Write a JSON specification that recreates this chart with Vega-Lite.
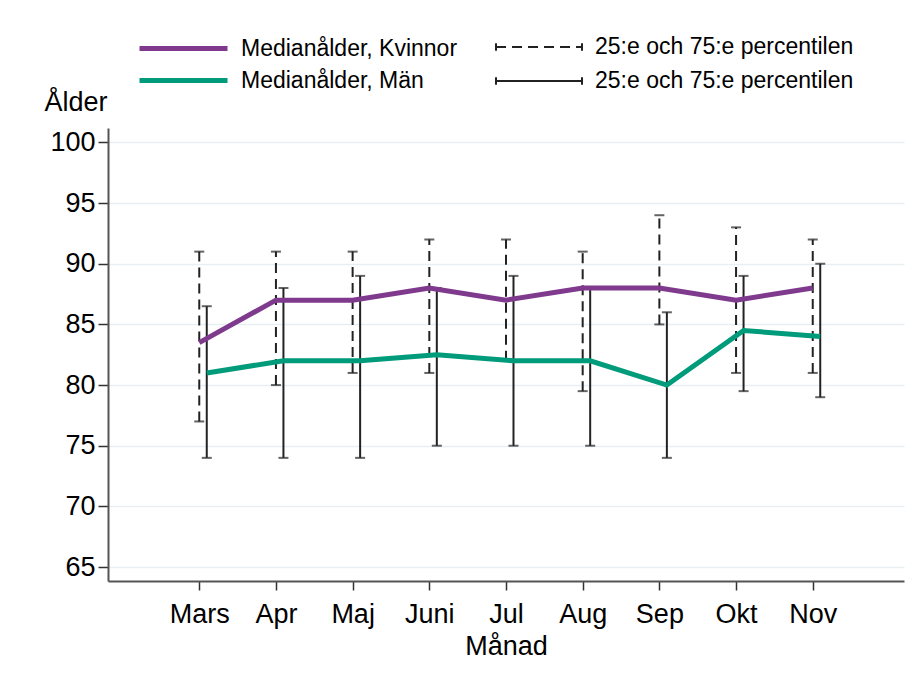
{
  "$schema": "https://vega.github.io/schema/vega-lite/v6.json",
  "width": 796,
  "height": 453,
  "autosize": "none",
  "padding": {"left": 108, "top": 128, "right": 10, "bottom": 94},
  "background": "white",
  "config": {
    "view": {"stroke": null},
    "font": "Liberation Sans",
    "legend": {"labelFont": "Liberation Sans", "labelColor": "#000", "labelLimit": 400}
  },
  "data": {
    "values": [
      {"month": "Mars", "m": 3, "sex": "Kvinnor", "med": 83.5, "p25": 77, "p75": 91},
      {"month": "Apr", "m": 4, "sex": "Kvinnor", "med": 87, "p25": 80, "p75": 91},
      {"month": "Maj", "m": 5, "sex": "Kvinnor", "med": 87, "p25": 81, "p75": 91},
      {"month": "Juni", "m": 6, "sex": "Kvinnor", "med": 88, "p25": 81, "p75": 92},
      {"month": "Jul", "m": 7, "sex": "Kvinnor", "med": 87, "p25": 82, "p75": 92},
      {"month": "Aug", "m": 8, "sex": "Kvinnor", "med": 88, "p25": 79.5, "p75": 91},
      {"month": "Sep", "m": 9, "sex": "Kvinnor", "med": 88, "p25": 85, "p75": 94},
      {"month": "Okt", "m": 10, "sex": "Kvinnor", "med": 87, "p25": 81, "p75": 93},
      {"month": "Nov", "m": 11, "sex": "Kvinnor", "med": 88, "p25": 81, "p75": 92},
      {"month": "Mars", "m": 3, "sex": "Män", "med": 81, "p25": 74, "p75": 86.5},
      {"month": "Apr", "m": 4, "sex": "Män", "med": 82, "p25": 74, "p75": 88},
      {"month": "Maj", "m": 5, "sex": "Män", "med": 82, "p25": 74, "p75": 89},
      {"month": "Juni", "m": 6, "sex": "Män", "med": 82.5, "p25": 75, "p75": 88},
      {"month": "Jul", "m": 7, "sex": "Män", "med": 82, "p25": 75, "p75": 89},
      {"month": "Aug", "m": 8, "sex": "Män", "med": 82, "p25": 75, "p75": 88},
      {"month": "Sep", "m": 9, "sex": "Män", "med": 80, "p25": 74, "p75": 86},
      {"month": "Okt", "m": 10, "sex": "Män", "med": 84.5, "p25": 79.5, "p75": 89},
      {"month": "Nov", "m": 11, "sex": "Män", "med": 84, "p25": 79, "p75": 90}
    ]
  },
  "resolve": {"scale": {"x": "independent"}, "axis": {"x": "independent"}},
  "layer": [
    {
      "transform": [{"filter": "datum.sex === 'Kvinnor'"}],
      "encoding": {
        "x": {
          "field": "m",
          "type": "quantitative",
          "scale": {"domain": [1.81, 12.19], "nice": false, "zero": false},
          "axis": {
            "values": [3, 4, 5, 6, 7, 8, 9, 10, 11],
            "labelExpr": "['','','','Mars','Apr','Maj','Juni','Jul','Aug','Sep','Okt','Nov'][datum.value]",
            "title": "Månad",
            "labelAngle": 0,
            "grid": false,
            "domainColor": "#555",
            "domainWidth": 2,
            "tickColor": "#333",
            "tickWidth": 1.5,
            "tickSize": 9,
            "labelFontSize": 27,
            "labelColor": "#000",
            "labelBaseline": "alphabetic",
            "labelPadding": 32,
            "labelFlush": false,
            "labelOverlap": false,
            "titleFontSize": 27,
            "titleFontWeight": "normal",
            "titleColor": "#000",
            "titleBaseline": "alphabetic",
            "titleY": 73
          }
        }
      },
      "layer": [
        {
          "mark": {"type": "rule", "color": "#222", "strokeWidth": 2},
          "encoding": {
            "y": {
              "field": "p25",
              "type": "quantitative",
              "scale": {"domain": [63.85, 101.19], "nice": false, "zero": false},
              "axis": {
                "values": [65, 70, 75, 80, 85, 90, 95, 100],
                "grid": true,
                "gridColor": "#e8eff2",
                "gridWidth": 1.5,
                "domainColor": "#555",
                "domainWidth": 2,
                "tickColor": "#333",
                "tickWidth": 1.5,
                "tickSize": 10,
                "labelFontSize": 27,
                "labelColor": "#000",
                "labelPadding": 3,
                "title": "Ålder",
                "titleAngle": 0,
                "titleAlign": "left",
                "titleBaseline": "alphabetic",
                "titleX": -64,
                "titleY": -18,
                "titleFontSize": 27,
                "titleFontWeight": "normal",
                "titleColor": "#000"
              }
            },
            "y2": {"field": "p75"},
            "strokeDash": {
              "field": "sex",
              "type": "nominal",
              "scale": {"range": [[10, 6], [1, 0]]},
              "legend": {
                "orient": "none",
                "legendX": 419,
                "legendY": -93,
                "direction": "vertical",
                "title": null,
                "labelExpr": "'25:e och 75:e percentilen'",
                "labelFontSize": 23,
                "labelOffset": 44,
                "rowPadding": 10,
                "symbolType": "M-4,-0.36L-4,0.36M-4,0L4,0M4,-0.36L4,0.36",
                "symbolSize": 462,
                "symbolStrokeColor": "#222",
                "symbolStrokeWidth": 2,
                "symbolFillColor": "transparent"
              }
            }
          }
        },
        {
          "mark": {"type": "tick", "orient": "horizontal", "color": "#222", "size": 10, "thickness": 2},
          "encoding": {"y": {"field": "p25", "type": "quantitative"}}
        },
        {
          "mark": {"type": "tick", "orient": "horizontal", "color": "#222", "size": 10, "thickness": 2},
          "encoding": {"y": {"field": "p75", "type": "quantitative"}}
        }
      ]
    },
    {
      "transform": [{"filter": "datum.sex === 'Män'"}],
      "encoding": {
        "x": {
          "field": "m",
          "type": "quantitative",
          "scale": {"domain": [1.7122, 12.0922], "nice": false, "zero": false},
          "axis": null
        }
      },
      "layer": [
        {
          "mark": {"type": "rule", "color": "#222", "strokeWidth": 2},
          "encoding": {
            "y": {"field": "p25", "type": "quantitative"},
            "y2": {"field": "p75"},
            "strokeDash": {"field": "sex", "type": "nominal"}
          }
        },
        {
          "mark": {"type": "tick", "orient": "horizontal", "color": "#222", "size": 10, "thickness": 2},
          "encoding": {"y": {"field": "p25", "type": "quantitative"}}
        },
        {
          "mark": {"type": "tick", "orient": "horizontal", "color": "#222", "size": 10, "thickness": 2},
          "encoding": {"y": {"field": "p75", "type": "quantitative"}}
        }
      ]
    },
    {
      "transform": [{"filter": "datum.sex === 'Kvinnor'"}],
      "mark": {"type": "line", "strokeWidth": 5},
      "encoding": {
        "x": {
          "field": "m",
          "type": "quantitative",
          "scale": {"domain": [1.81, 12.19], "nice": false, "zero": false},
          "axis": null
        },
        "y": {"field": "med", "type": "quantitative"},
        "color": {
          "field": "sex",
          "type": "nominal",
          "scale": {"domain": ["Kvinnor", "Män"], "range": ["#7f3a8d", "#009b7a"]},
          "legend": {
            "orient": "none",
            "legendX": 62,
            "legendY": -93,
            "direction": "vertical",
            "title": null,
            "labelExpr": "'Medianålder, ' + datum.label",
            "labelFontSize": 23,
            "labelOffset": 44,
            "rowPadding": 6,
            "symbolType": "M-4,0L4,0",
            "symbolSize": 484,
            "symbolStrokeWidth": 5
          }
        }
      }
    },
    {
      "transform": [{"filter": "datum.sex === 'Män'"}],
      "mark": {"type": "line", "strokeWidth": 5},
      "encoding": {
        "x": {
          "field": "m",
          "type": "quantitative",
          "scale": {"domain": [1.7122, 12.0922], "nice": false, "zero": false},
          "axis": null
        },
        "y": {"field": "med", "type": "quantitative"},
        "color": {"field": "sex", "type": "nominal"}
      }
    }
  ]
}
